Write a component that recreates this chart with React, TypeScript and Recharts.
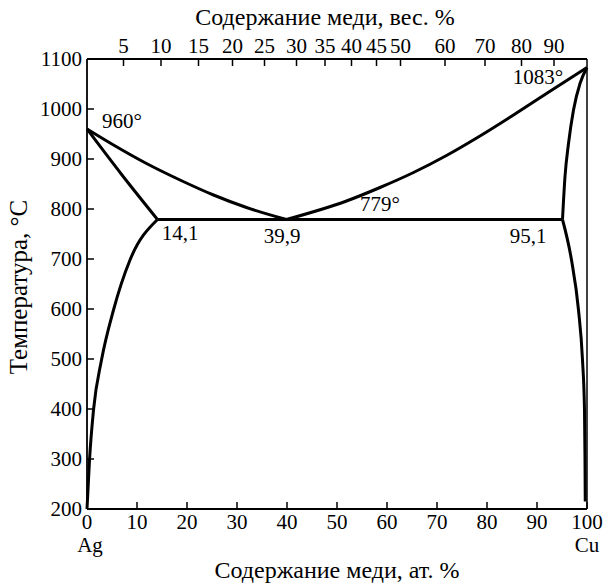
import React from 'react'
import { Label, Line, LineChart, ReferenceDot, ReferenceLine, XAxis, YAxis } from 'recharts'

// atomic % copper along the bottom axis, temperature on the left
const atTicks = [0, 10, 20, 30, 40, 50, 60, 70, 80, 90, 100]
const tempTicks = [200, 300, 400, 500, 600, 700, 800, 900, 1000, 1100]

// weight % scale on top, placed at the matching atomic %
const wtLabels = ['5', '10', '15', '20', '25', '30', '35', '40', '45', '50', '60', '70', '80', '90']
const wtTickPos = [7.3, 14.8, 22.3, 29.1, 35.5, 41.9, 47.6, 52.9, 57.9, 62.7, 71.6, 79.6, 86.9, 93.4]

const leftLiquidus = [
  { x: 0, t: 960 },
  { x: 5.3, t: 928 },
  { x: 11.9, t: 891 },
  { x: 18.6, t: 858 },
  { x: 25.3, t: 828 },
  { x: 31.9, t: 803 },
  { x: 39.9, t: 779 },
]
const rightLiquidus = [
  { x: 39.9, t: 779 },
  { x: 51.9, t: 816 },
  { x: 58.6, t: 843 },
  { x: 65.3, t: 873 },
  { x: 71.9, t: 907 },
  { x: 78.6, t: 946 },
  { x: 85.3, t: 988 },
  { x: 91.9, t: 1031 },
  { x: 100, t: 1083 },
]
const leftSolidus = [
  { x: 0, t: 960 },
  { x: 7, t: 868 },
  { x: 14.1, t: 779 },
]
const leftSolvus = [
  { x: 0, t: 200 },
  { x: 0.5, t: 298 },
  { x: 1.3, t: 398 },
  { x: 2.9, t: 498 },
  { x: 5.3, t: 598 },
  { x: 8.6, t: 698 },
  { x: 14.1, t: 779 },
]
const rightSolidus = [
  { x: 95.1, t: 779 },
  { x: 95.6, t: 865 },
  { x: 96.3, t: 931 },
  { x: 97.3, t: 998 },
  { x: 98.6, t: 1051 },
  { x: 100, t: 1083 },
]
const rightSolvus = [
  { x: 95.1, t: 779 },
  { x: 96.9, t: 698 },
  { x: 98.3, t: 598 },
  { x: 99.1, t: 498 },
  { x: 99.5, t: 398 },
  { x: 99.6, t: 298 },
  { x: 99.65, t: 215 },
]
const eutectic = [
  { x: 14.1, t: 779 },
  { x: 95.1, t: 779 },
]

const notes = [
  { x: 7, t: 976, text: '960°' },
  { x: 90.2, t: 1064, text: '1083°' },
  { x: 58.6, t: 810, text: '779°' },
  { x: 18.6, t: 752, text: '14,1' },
  { x: 39, t: 746, text: '39,9' },
  { x: 88.2, t: 746, text: '95,1' },
]

const font = '"Liberation Serif", "DejaVu Serif", serif'
const tickStyle = { fill: '#000', fontSize: 21, fontFamily: font }
const titleStyle = { fill: '#000', fontSize: 24, fontFamily: font }
const axisLine = { stroke: '#000', strokeWidth: 1.8 }
const tickLine = { stroke: '#000', strokeWidth: 1.5 }

const bottomCurves = [leftLiquidus, rightLiquidus, leftSolidus, leftSolvus, rightSolidus, rightSolvus]

function BottomTick(props: any) {
  const { x, y, payload } = props
  const element = payload.value === 0 ? 'Ag' : payload.value === 100 ? 'Cu' : null
  return (
    <g>
      <text x={x} y={y} dy="0.71em" textAnchor="middle" {...tickStyle}>
        {payload.value}
      </text>
      {element && (
        <text x={x + (element === 'Ag' ? 3 : 0)} y={y + 23} dy="0.71em" textAnchor="middle" {...tickStyle}>
          {element}
        </text>
      )}
    </g>
  )
}

export default function App() {
  return (
    <div style={{ position: 'absolute', left: 0, top: 0, background: '#fff', fontFamily: font }}>
      <LineChart width={603} height={583} margin={{ top: 0, right: 16, bottom: 0, left: 0 }}>
        <XAxis
          xAxisId="bottom"
          dataKey="x"
          type="number"
          domain={[0, 100]}
          ticks={atTicks}
          height={74}
          axisLine={axisLine}
          tickLine={tickLine}
          tickSize={-7}
          tickMargin={12}
          tick={<BottomTick />}
          interval={0}
        >
          <Label value="Содержание меди, ат. %" position="insideBottom" offset={5} style={titleStyle} />
        </XAxis>
        <XAxis
          xAxisId="top"
          orientation="top"
          dataKey="x"
          type="number"
          domain={[0, 100]}
          ticks={wtTickPos}
          tickFormatter={(v: number) => wtLabels[wtTickPos.indexOf(v)]}
          height={59}
          axisLine={axisLine}
          tickLine={tickLine}
          tickSize={-7}
          tickMargin={13}
          tick={tickStyle}
          interval={0}
        >
          <Label value="Содержание меди, вес. %" position="insideTop" offset={8} dx={-12} style={titleStyle} />
        </XAxis>
        <YAxis
          yAxisId="left"
          type="number"
          domain={[200, 1100]}
          ticks={tempTicks}
          width={87}
          axisLine={axisLine}
          tickLine={tickLine}
          tickSize={-7}
          tickMargin={12}
          tick={tickStyle}
          interval={0}
        >
          <Label value="Температура, °C" angle={-90} position="insideLeft" offset={18} dy={3} style={{ ...titleStyle, fontSize: 25, textAnchor: 'middle' }} />
        </YAxis>
        <ReferenceLine xAxisId="bottom" yAxisId="left" x={100} stroke="#000" strokeWidth={1.5} />
        {bottomCurves.map((c, i) => (
          <Line
            key={i}
            xAxisId="bottom"
            yAxisId="left"
            data={c}
            dataKey="t"
            type="monotone"
            stroke="#000"
            strokeWidth={3}
            dot={false}
            activeDot={false}
            isAnimationActive={false}
          />
        ))}
        {/* the eutectic line is tied to the top axis so that axis has a series and draws its ticks */}
        <Line
          xAxisId="top"
          yAxisId="left"
          data={eutectic}
          dataKey="t"
          type="linear"
          stroke="#000"
          strokeWidth={3}
          dot={false}
          activeDot={false}
          isAnimationActive={false}
        />
        {notes.map((n) => (
          <ReferenceDot
            key={n.text}
            xAxisId="bottom"
            yAxisId="left"
            x={n.x}
            y={n.t}
            r={0}
            fill="none"
            stroke="none"
            label={{ value: n.text, position: 'center', ...tickStyle }}
          />
        ))}
      </LineChart>
    </div>
  )
}
